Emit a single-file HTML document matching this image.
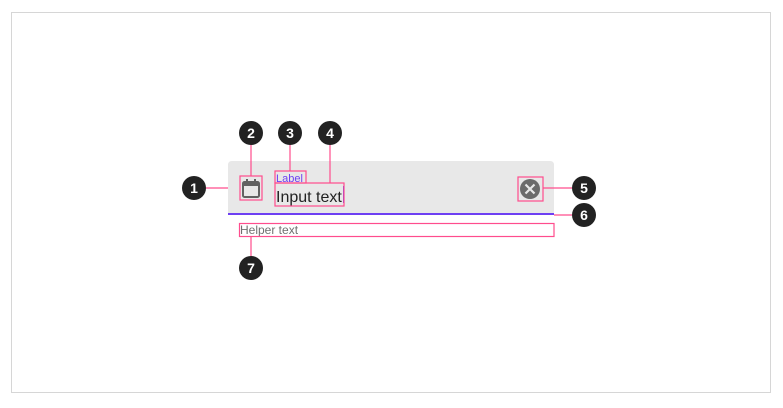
<!DOCTYPE html>
<html><head><style>
body{margin:0;width:783px;height:403px;background:#fff;font-family:"Liberation Sans",sans-serif;}
</style></head><body>
<svg width="783" height="403" xmlns="http://www.w3.org/2000/svg" font-family="Liberation Sans, sans-serif">
<rect x="11.5" y="12.5" width="759" height="380" fill="#fff" stroke="#d6d6d6"/>
<path d="M228 215 V165 Q228 161 232 161 H550 Q554 161 554 165 V215 Z" fill="#e8e8e8"/>
<rect x="228" y="213" width="326" height="2" fill="#6e3ff3"/>
<!-- calendar icon -->
<rect x="243" y="182" width="16" height="15" rx="1.5" fill="none" stroke="#616161" stroke-width="2"/>
<rect x="243" y="182" width="16" height="4" fill="#616161"/>
<rect x="246" y="179" width="2" height="4" fill="#616161"/><rect x="254" y="179" width="2" height="4" fill="#616161"/>
<text x="276" y="182" font-size="11" fill="#6e3ff3">Label</text>
<text x="276" y="202" font-size="16" fill="#222">Input text</text>
<rect x="343" y="186" width="1" height="17" fill="#6e3ff3"/>
<circle cx="530" cy="189" r="10" fill="#6b6b6b"/>
<path d="M525.5 184.5 L534.5 193.5 M534.5 184.5 L525.5 193.5" stroke="#e8e8e8" stroke-width="2.2"/>
<text x="240" y="234" font-size="12" fill="#707070">Helper text</text>
<g fill="none" stroke="#ff4d8d" stroke-width="1.2">
<rect x="240" y="176" width="22" height="24"/>
<rect x="275" y="171" width="31" height="12"/>
<rect x="275" y="183" width="69" height="23"/>
<rect x="518" y="177" width="25" height="24"/>
<rect x="239.5" y="223.5" width="314.5" height="13"/>
<path d="M206 188H228 M251 145V176 M290 145V171 M330 145V183 M543 188H572 M554 215H572 M251 237V256"/>
</g>
<g fill="#222"><circle cx="194" cy="188" r="12"/><circle cx="251" cy="133" r="12"/><circle cx="290" cy="133" r="12"/><circle cx="330" cy="133" r="12"/><circle cx="584" cy="188" r="12"/><circle cx="584" cy="215" r="12"/><circle cx="251" cy="268" r="12"/></g>
<g fill="#fff" font-size="14" font-weight="bold" text-anchor="middle">
<text x="194" y="193">1</text><text x="251" y="138">2</text><text x="290" y="138">3</text><text x="330" y="138">4</text><text x="584" y="193">5</text><text x="584" y="220">6</text><text x="251" y="273">7</text></g>
</svg>
</body></html>
